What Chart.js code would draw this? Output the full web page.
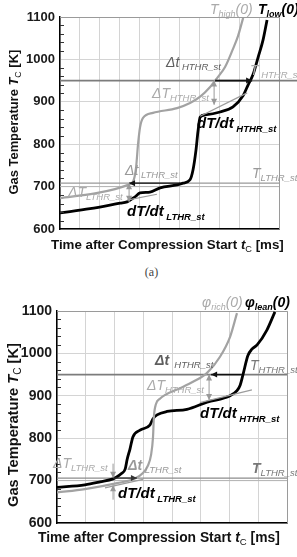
<!DOCTYPE html>
<html>
<head>
<meta charset="utf-8">
<script src="https://cdn.jsdelivr.net/npm/chart.js@4.4.1/dist/chart.umd.min.js"></script>
<style>
  html, body { margin: 0; padding: 0; background: #fff; }
  body { width: 297px; height: 557px; position: relative; overflow: hidden; }
  .box { position: absolute; left: 0; width: 297px; }
  #boxA { top: 0; height: 260px; }
  #boxB { top: 280px; height: 277px; }
  #cap { position: absolute; top: 265px; left: 0; width: 303px; text-align: center;
         font: 12px "Liberation Serif", serif; line-height: 14px; color: #444; }
</style>
</head>
<body>
<div id="boxA" class="box"><canvas id="chartA"></canvas></div>
<div id="cap">(a)</div>
<div id="boxB" class="box"><canvas id="chartB"></canvas></div>
<script>
const FONT = '"Liberation Sans", Arial, sans-serif';

// x values are in grid divisions, the figure has no time tick labels

// (a) T_high(0) / T_low(0)
const aHighX = [0, 1.76, 2.76, 3.42, 3.67, 3.82, 3.92, 4.02, 4.17, 4.67, 5.88, 6.53, 7.04, 7.54, 7.89, 8.29, 8.69, 8.94, 9.20];
const aHighY = [673, 684, 694, 704, 712, 745, 800, 840, 862, 874, 885, 897, 912, 935, 956, 982, 1025, 1055, 1098];
const aLowX = [0, 1.51, 3.02, 3.37, 3.77, 4.02, 4.52, 5.03, 5.88, 6.18, 6.53, 6.68, 6.83, 6.93, 7.04, 7.29, 8.04, 8.69, 9.20, 9.45, 9.70, 9.95, 10.20, 10.40];
const aLowY = [638, 648, 661, 664, 676, 685, 687, 697, 704, 708, 716, 739, 786, 830, 864, 869, 876, 888, 915, 940, 965, 1005, 1046, 1093];
const aTanHX = [7.04, 9.40];
const aTanHY = [866, 921];
const aTanLX = [3.37, 4.87];
const aTanLY = [668, 682];
const aTHTHR = 950;
const aTLTHR = 708;

// (b) phi_rich(0) / phi_lean(0)
const bRichX = [0, 0.97, 2.09, 2.71, 2.99, 3.16, 3.27, 3.34, 3.37, 3.44, 3.58, 3.76, 4.28, 4.73, 5.22, 5.67, 6.02, 6.26];
const bRichY = [672, 680, 694, 705, 718, 735, 760, 803, 850, 880, 893, 902, 918, 933, 954, 992, 1039, 1095];
const bLeanX = [0, 0.97, 1.50, 1.95, 2.09, 2.23, 2.37, 2.44, 2.54, 2.64, 2.89, 3.23, 3.34, 3.48, 3.83, 4.52, 5.22, 6.02, 6.26, 6.37, 6.47, 6.64, 6.78, 6.96, 7.30, 7.58];
const bLeanY = [684, 690, 697, 704, 709, 716, 727, 750, 775, 803, 819, 831, 846, 855, 863, 868, 885, 900, 912, 925, 950, 995, 1010, 1020, 1055, 1098];
const bTanHX = [4.97, 6.78];
const bTanHY = [884, 914];
const bTanLX = [1.67, 2.99];
const bTanLY = [683, 703];
const bTHTHR = 950;
const bTLTHR = 706;

const yTicks = [600, 700, 800, 900, 1000, 1100];

function pts(xs, ys) {
    return xs.map((x, i) => ({ x: x, y: ys[i] }));
}

function fontStr(st, size) {
    return (st.includes('i') ? 'italic ' : '') + (st.includes('b') ? 'bold ' : '') + size + 'px ' + FONT;
}

// parts: [text, style, size, color, dy]
function drawRich(ctx, x, y, parts, scale) {
    scale = scale || 1;
    let cx = x;
    ctx.textAlign = 'left';
    ctx.textBaseline = 'alphabetic';
    parts.forEach(p => {
        ctx.font = fontStr(p[1], p[2] * scale);
        ctx.fillStyle = p[3];
        ctx.fillText(p[0], cx, y + (p[4] || 0) * scale);
        cx += ctx.measureText(p[0]).width;
    });
}

function fitScale(ctx, parts, target) {
    let w = 0;
    parts.forEach(p => { ctx.font = fontStr(p[1], p[2]); w += ctx.measureText(p[0]).width; });
    return target / w;
}

function head(ctx, x0, y0, x1, y1) {
    const a = Math.atan2(y1 - y0, x1 - x0);
    const L = 6, H = 3;
    ctx.beginPath();
    ctx.moveTo(x1, y1);
    ctx.lineTo(x1 - L * Math.cos(a) + H * Math.sin(a), y1 - L * Math.sin(a) - H * Math.cos(a));
    ctx.lineTo(x1 - L * Math.cos(a) - H * Math.sin(a), y1 - L * Math.sin(a) + H * Math.cos(a));
    ctx.closePath();
    ctx.fill();
}

function arrow(chart, a) {
    const ctx = chart.ctx, xs = chart.scales.x, ys = chart.scales.y;
    const x0 = xs.getPixelForValue(a.x0), y0 = ys.getPixelForValue(a.y0);
    const x1 = xs.getPixelForValue(a.x1), y1 = ys.getPixelForValue(a.y1);
    ctx.save();
    ctx.strokeStyle = a.color;
    ctx.fillStyle = a.color;
    ctx.lineWidth = a.width;
    ctx.beginPath();
    ctx.moveTo(x0, y0);
    ctx.lineTo(x1, y1);
    ctx.stroke();
    if (a.heads === 'end' || a.heads === 'both') head(ctx, x0, y0, x1, y1);
    if (a.heads === 'both') head(ctx, x1, y1, x0, y0);
    ctx.restore();
}

function decor(o) {
    return {
        id: 'decor',
        beforeDatasetsDraw(chart) {
            const ctx = chart.ctx, area = chart.chartArea, ys = chart.scales.y;
            ctx.save();
            // frame
            ctx.strokeStyle = '#9a9a9a';
            ctx.lineWidth = 1;
            ctx.beginPath();
            ctx.moveTo(area.left, area.top + 0.5);
            ctx.lineTo(area.right + 0.5, area.top + 0.5);
            ctx.lineTo(area.right + 0.5, area.bottom);
            ctx.stroke();
            // reference levels
            o.refs.forEach(r => {
                const y = ys.getPixelForValue(r.v);
                ctx.strokeStyle = r.color;
                ctx.lineWidth = r.width;
                ctx.beginPath();
                ctx.moveTo(area.left, y);
                ctx.lineTo(r.toEdge ? chart.width : area.right, y);
                ctx.stroke();
            });
            ctx.restore();
        },
        afterDatasetsDraw(chart) {
            const ctx = chart.ctx, area = chart.chartArea, ys = chart.scales.y;
            o.arrows.forEach(a => arrow(chart, a));
            // minor ticks on the temperature axis
            ctx.save();
            ctx.strokeStyle = '#333';
            ctx.lineWidth = 1;
            for (let v = 620; v < 1100; v += 20) {
                if (v % 100 === 0) continue;
                const y = Math.round(ys.getPixelForValue(v)) + 0.5;
                ctx.beginPath();
                ctx.moveTo(area.left, y);
                ctx.lineTo(area.left + 4, y);
                ctx.stroke();
            }
            ctx.restore();
            ctx.save();
            o.labels.forEach(l => drawRich(ctx, l.x, l.y, l.parts));
            // x title
            const xp = o.xTitle.parts;
            drawRich(ctx, o.xTitle.x, o.xTitle.y, xp, fitScale(ctx, xp, o.xTitle.w));
            // y title
            const yp = o.yTitle.parts;
            const s = fitScale(ctx, yp, o.yTitle.w);
            ctx.translate(o.yTitle.x, o.yTitle.cy);
            ctx.rotate(-Math.PI / 2);
            drawRich(ctx, -o.yTitle.w / 2, 0, yp, s);
            ctx.restore();
        }
    };
}

function buildChart(id, o) {
    return new Chart(document.getElementById(id), {
        type: 'line',
        data: {
            datasets: [
                { data: pts(o.tanH[0], o.tanH[1]), borderColor: '#9c9c9c', borderWidth: 1.2, tension: 0 },
                { data: pts(o.tanL[0], o.tanL[1]), borderColor: '#9c9c9c', borderWidth: 1.2, tension: 0 },
                { data: pts(o.hi[0], o.hi[1]), borderColor: '#a2a2a2', borderWidth: 2.2, cubicInterpolationMode: 'monotone' },
                { data: pts(o.lo[0], o.lo[1]), borderColor: '#000000', borderWidth: 2.8, cubicInterpolationMode: 'monotone' }
            ]
        },
        options: {
            responsive: true,
            maintainAspectRatio: false,
            animation: false,
            parsing: false,
            layout: { padding: o.pad },
            elements: { point: { radius: 0 } },
            plugins: { legend: { display: false }, tooltip: { enabled: false } },
            scales: {
                x: {
                    type: 'linear', min: 0, max: o.xMax,
                    ticks: { display: false, stepSize: 1 },
                    grid: { color: '#d4d4d4', drawTicks: false },
                    border: { color: '#000', width: 1.5 },
                    afterFit: s => { s.height = o.xH; }
                },
                y: {
                    min: 600, max: 1100,
                    ticks: {
                        stepSize: 20, autoSkip: false, padding: 5, color: '#1a1a1a',
                        font: { family: FONT, size: o.tick, weight: 'bold' },
                        callback: v => yTicks.includes(v) ? String(v) : ''
                    },
                    grid: {
                        drawTicks: false,
                        color: c => (c.tick && yTicks.includes(c.tick.value)) ? '#d4d4d4' : 'rgba(0,0,0,0)'
                    },
                    border: { color: '#000', width: 1.5 },
                    afterFit: s => { s.width = o.yW; }
                }
            }
        },
        plugins: [decor(o)]
    });
}

const G1 = '#aaaaaa', G2 = '#999999', G3 = '#777777', G4 = '#5e5e5e', K = '#000000';

function sub(name, c, st) {
    return [name, st || 'i', 9.5, c, 3];
}

buildChart('chartA', {
    hi: [aHighX, aHighY], lo: [aLowX, aLowY],
    tanH: [aTanHX, aTanHY], tanL: [aTanLX, aTanLY],
    xMax: 11, pad: { top: 17, right: 18, left: 0, bottom: 0 }, xH: 31, yW: 60, tick: 13,
    refs: [
        { v: 700, color: '#b4b4b4', width: 1 },
        { v: aTLTHR, color: '#999999', width: 1.3 },
        { v: aTHTHR, color: '#7c7c7c', width: 1.6, toEdge: true }
    ],
    arrows: [
        { x0: 7.79, y0: aTHTHR, x1: 9.65, y1: aTHTHR, heads: 'end', color: '#111', width: 1.6 },
        { x0: 7.74, y0: aTHTHR, x1: 7.74, y1: 893, heads: 'both', color: '#999', width: 1 },
        { x0: 6.03, y0: aTLTHR, x1: 3.47, y1: aTLTHR, heads: 'end', color: '#111', width: 1.3 },
        { x0: 3.47, y0: aTLTHR, x1: 3.47, y1: 664, heads: 'both', color: '#999', width: 1 }
    ],
    labels: [
        { x: 210, y: 14, parts: [['T', 'i', 14, G1], ['high', 'i', 9, G1, 3], ['(0)', 'i', 14, G1]] },
        { x: 258, y: 14, parts: [['T', 'bi', 14, K], ['low', 'bi', 9, K, 3], ['(0)', 'bi', 14, K]] },
        { x: 166, y: 67, parts: [['\u0394t', 'i', 14, G4], sub(' HTHR_st', G4)] },
        { x: 250, y: 75, parts: [['T', 'i', 14, G1], sub(' HTHR_st', G1)] },
        { x: 152, y: 98, parts: [['\u0394T', 'i', 14, G1], sub('HTHR_st', G1)] },
        { x: 197, y: 128, parts: [['dT/dt', 'bi', 15, K], [' HTHR_st', 'bi', 9.5, K, 4]] },
        { x: 125, y: 175, parts: [['\u0394t', 'i', 14, G2], sub(' LTHR_st', G2)] },
        { x: 252, y: 178, parts: [['T', 'i', 14, G2], sub('LTHR_st', G2)] },
        { x: 68, y: 197, parts: [['\u0394T', 'i', 14, G1], sub('LTHR_st', G1)] },
        { x: 127, y: 216, parts: [['dT/dt', 'bi', 15, K], [' LTHR_st', 'bi', 9.5, K, 4]] }
    ],
    xTitle: { x: 51, y: 249, w: 233, parts: [['Time after Compression Start ', 'b', 13, '#111'], ['t', 'bi', 13, '#111'], ['C', '', 9, '#111', 3], [' [ms]', 'b', 13, '#111']] },
    yTitle: { x: 18, cy: 122, w: 145, parts: [['Gas Temperature ', 'b', 13, '#111'], ['T', 'bi', 13, '#111'], ['C', '', 9, '#111', 3], [' [K]', 'b', 13, '#111']] }
});

buildChart('chartB', {
    hi: [bRichX, bRichY], lo: [bLeanX, bLeanY],
    tanH: [bTanHX, bTanHY], tanL: [bTanLX, bTanLY],
    xMax: 8, pad: { top: 31, right: 10, left: 0, bottom: 0 }, xH: 34, yW: 57, tick: 14,
    refs: [
        { v: 700, color: '#b4b4b4', width: 1 },
        { v: bTLTHR, color: '#8c8c8c', width: 1.3 },
        { v: bTHTHR, color: '#7c7c7c', width: 1.6 }
    ],
    arrows: [
        { x0: 6.43, y0: bTHTHR, x1: 5.36, y1: bTHTHR, heads: 'end', color: '#111', width: 1.5 },
        { x0: 5.29, y0: bTHTHR, x1: 5.29, y1: 890, heads: 'both', color: '#999', width: 1 },
        { x0: 1.95, y0: bTLTHR, x1: 2.78, y1: bTLTHR, heads: 'end', color: '#333', width: 1.3 },
        { x0: 1.95, y0: 740, x1: 1.95, y1: bTLTHR + 1, heads: 'end', color: '#999', width: 1 },
        { x0: 1.95, y0: 655, x1: 1.95, y1: 689, heads: 'end', color: '#999', width: 1 }
    ],
    labels: [
        { x: 202, y: 27, parts: [['\u03c6', 'i', 14, G1], ['rich', 'i', 9, G1, 3], ['(0)', 'i', 14, G1]] },
        { x: 245, y: 27, parts: [['\u03c6', 'bi', 14, K], ['lean', 'bi', 9, K, 3], ['(0)', 'bi', 14, K]] },
        { x: 155, y: 85, parts: [['\u0394t', 'bi', 14, G4], sub('  HTHR_st', G4)] },
        { x: 250, y: 90, parts: [['T', 'i', 14, G3], sub('HTHR_st', G3)] },
        { x: 147, y: 110, parts: [['\u0394T', 'i', 14, G1], sub('HTHR_st', G1)] },
        { x: 200, y: 138, parts: [['dT/dt', 'bi', 15, K], [' HTHR_st', 'bi', 9.5, K, 4]] },
        { x: 53, y: 188, parts: [['\u0394T', 'i', 14, G1], sub('LTHR_st', G1)] },
        { x: 128, y: 190, parts: [['\u0394t', 'bi', 14, G2], sub(' LTHR_st', G2)] },
        { x: 252, y: 193, parts: [['T', 'bi', 14, G3], sub('LTHR_st', G3)] },
        { x: 118, y: 218, parts: [['dT/dt', 'bi', 15, K], [' LTHR_st', 'bi', 9.5, K, 4]] }
    ],
    xTitle: { x: 38, y: 262, w: 242, parts: [['Time after Compression Start ', 'b', 13, '#111'], ['t', 'bi', 13, '#111'], ['C', '', 9, '#111', 3], [' [ms]', 'b', 13, '#111']] },
    yTitle: { x: 18, cy: 145, w: 164, parts: [['Gas Temperature ', 'b', 13, '#111'], ['T', 'bi', 13, '#111'], ['C', '', 9, '#111', 3], [' [K]', 'b', 13, '#111']] }
});
</script>
</body>
</html>
